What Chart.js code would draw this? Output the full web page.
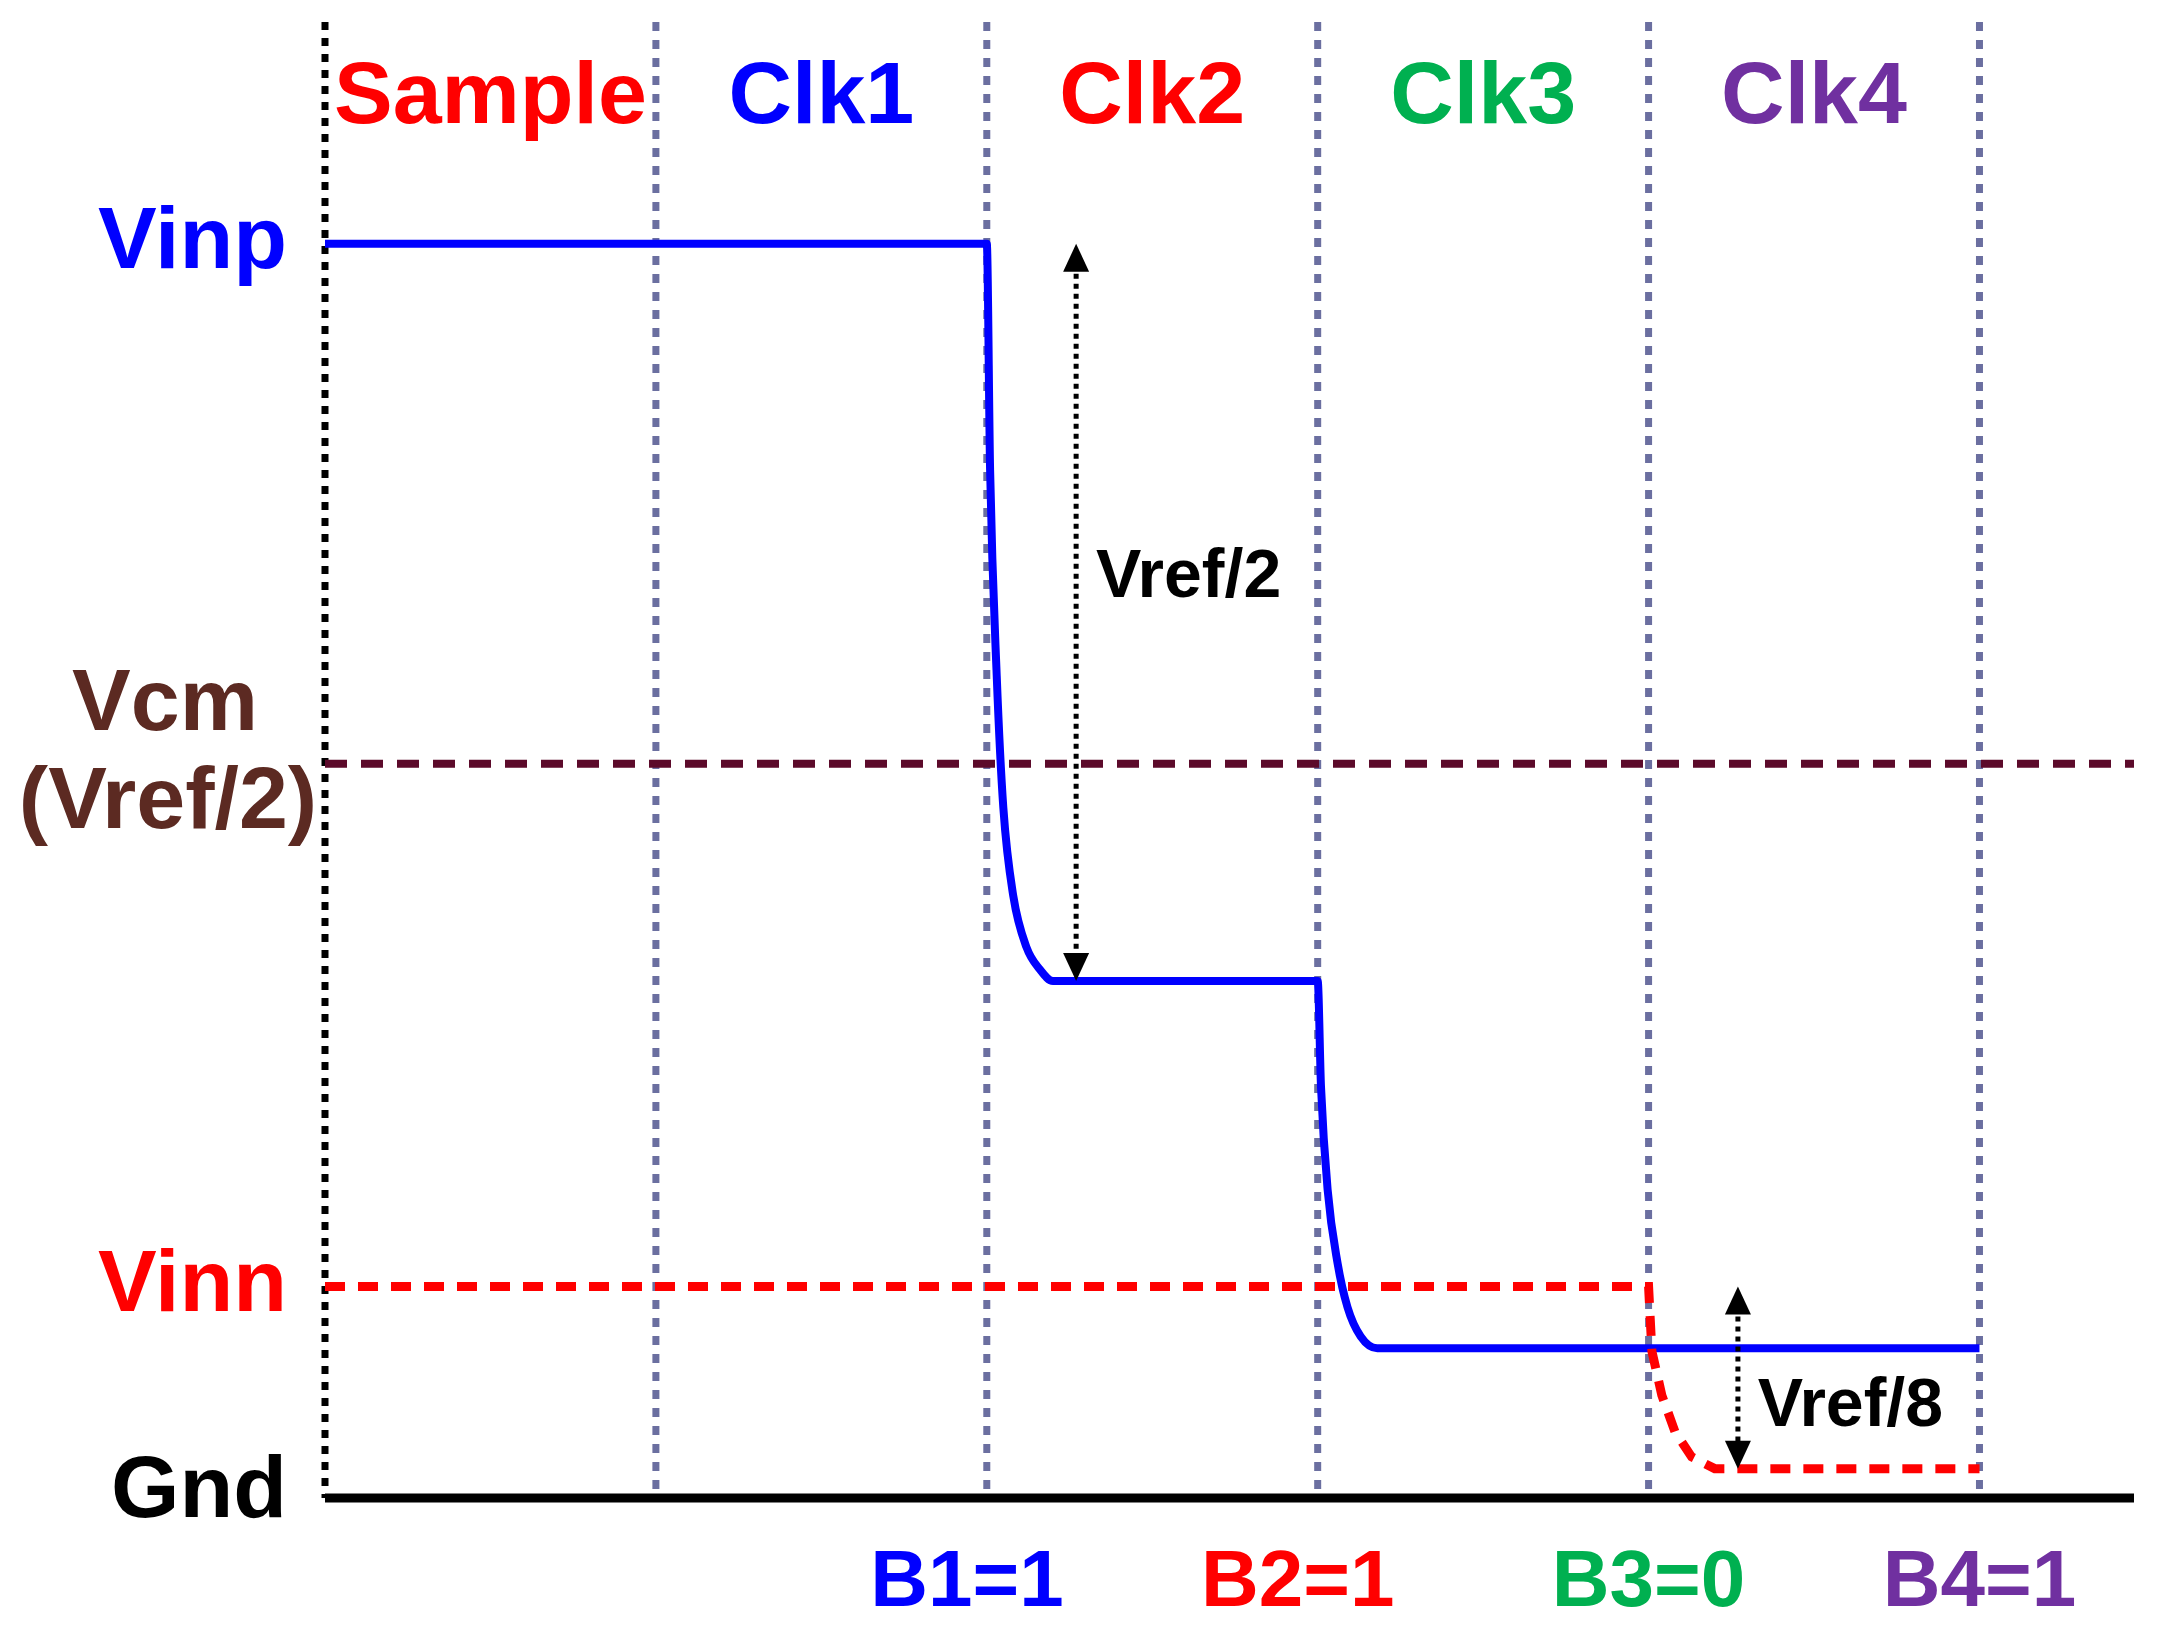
<!DOCTYPE html>
<html>
<head>
<meta charset="utf-8">
<script src="https://cdn.jsdelivr.net/npm/chart.js"></script>
<style>
  html, body { margin: 0; padding: 0; background: #fff; }
  #wrap { width: 2166px; height: 1648px; }
</style>
</head>
<body>
<div id="wrap"><canvas id="grafico"></canvas></div>
<script>
// x is in clock periods (0 = start of sample), y in units of Vref
var vinpX = [0, 2, 2.01, 2.03, 2.05, 2.08, 2.12, 2.16, 2.2, 3, 3.01, 3.03, 3.06, 3.09, 3.13, 3.18, 5];
var vinpY = [0.854, 0.854, 0.70, 0.56, 0.47, 0.41, 0.375, 0.36, 0.352, 0.352, 0.28, 0.21, 0.16, 0.13, 0.11, 0.102, 0.102];
var vinnX = [0, 4, 4.01, 4.04, 4.08, 4.13, 4.2, 5];
var vinnY = [0.144, 0.144, 0.10, 0.07, 0.045, 0.028, 0.02, 0.02];
var vcmY = 0.5;
var xMax = 5.467;
var clockLines = [1, 2, 3, 4, 5];

var phaseNames = ["Sample", "Clk1", "Clk2", "Clk3", "Clk4"];
var phaseColors = ["#ff0000", "#0000ff", "#ff0000", "#00b050", "#7030a0"];
var bitNames = ["B1=1", "B2=1", "B3=0", "B4=1"];
var bitX = [1.94, 2.94, 4.0, 5.0];
var bitColors = ["#0000ff", "#ff0000", "#00b050", "#7030a0"];
var levelNames = ["Vinp", "Vinn", "Gnd"];
var levelY = [0.854, 0.144, 0.0];
var levelColors = ["#0000ff", "#ff0000", "#000000"];

function pts(xs, ys) {
    var out = [];
    for (var i = 0; i < xs.length; i++) out.push({ x: xs[i], y: ys[i] });
    return out;
}

var desenho = {
    id: 'desenho',
    beforeDatasetsDraw: function (chart) {
        var c = chart.ctx, xs = chart.scales.x, a = chart.chartArea;
        c.save();
        // dotted clock lines
        c.strokeStyle = "#6b6fa0"; c.lineWidth = 7; c.setLineDash([9, 9]);
        clockLines.forEach(function (v) {
            var px = xs.getPixelForValue(v);
            c.beginPath(); c.moveTo(px, a.top); c.lineTo(px, a.bottom); c.stroke();
        });
        // left axis
        c.strokeStyle = "#000"; c.setLineDash([8, 8]); c.lineWidth = 7;
        c.beginPath(); c.moveTo(a.left, a.top); c.lineTo(a.left, a.bottom); c.stroke();
        c.restore();
    },
    afterDatasetsDraw: function (chart) {
        var c = chart.ctx, xs = chart.scales.x, ys = chart.scales.y, a = chart.chartArea;
        c.save();
        // ground line
        c.strokeStyle = "#000"; c.lineWidth = 9; c.setLineDash([]);
        c.beginPath(); c.moveTo(a.left, ys.getPixelForValue(0)); c.lineTo(a.right, ys.getPixelForValue(0)); c.stroke();

        // arrows
        function arrow(xv, y1, y2) {
            var px = xs.getPixelForValue(xv), p1 = ys.getPixelForValue(y1), p2 = ys.getPixelForValue(y2);
            c.strokeStyle = "#000"; c.lineWidth = 5; c.setLineDash([5, 5]);
            c.beginPath(); c.moveTo(px, p1 + 20); c.lineTo(px, p2 - 20); c.stroke();
            c.setLineDash([]); c.fillStyle = "#000";
            c.beginPath(); c.moveTo(px, p1); c.lineTo(px - 13, p1 + 28); c.lineTo(px + 13, p1 + 28); c.fill();
            c.beginPath(); c.moveTo(px, p2); c.lineTo(px - 13, p2 - 28); c.lineTo(px + 13, p2 - 28); c.fill();
        }
        arrow(2.27, 0.854, 0.352);
        arrow(4.27, 0.144, 0.02);

        c.textBaseline = "middle";
        c.font = "bold 68px 'Liberation Sans'"; c.fillStyle = "#000"; c.textAlign = "left";
        c.fillText("Vref/2", xs.getPixelForValue(2.33), ys.getPixelForValue(0.626));
        c.fillText("Vref/8", xs.getPixelForValue(4.33), ys.getPixelForValue(0.062));

        c.font = "bold 88px 'Liberation Sans'"; c.textAlign = "center";
        phaseNames.forEach(function (n, i) {
            c.fillStyle = phaseColors[i];
            c.fillText(n, xs.getPixelForValue(i + 0.5), ys.getPixelForValue(0.953));
        });
        c.font = "bold 80px 'Liberation Sans'";
        bitNames.forEach(function (n, i) {
            c.fillStyle = bitColors[i];
            c.fillText(n, xs.getPixelForValue(bitX[i]), a.bottom + 86);
        });
        c.font = "bold 88px 'Liberation Sans'"; c.textAlign = "right";
        levelNames.forEach(function (n, i) {
            c.fillStyle = levelColors[i];
            c.fillText(n, a.left - 38, ys.getPixelForValue(levelY[i]) + (i == 2 ? -5 : 0));
        });
        c.fillStyle = "#5c2a22"; c.textAlign = "center";
        c.fillText("Vcm", 165, ys.getPixelForValue(0.5) - 58);
        c.fillText("(Vref/2)", 168, ys.getPixelForValue(0.5) + 40);
        c.restore();
    }
};

new Chart(document.getElementById("grafico"), {
    type: "line",
    data: {
        datasets: [
            { data: [{ x: 0, y: vcmY }, { x: xMax, y: vcmY }], borderColor: "#5c0a2a", borderWidth: 8, borderDash: [22, 14], pointRadius: 0 },
            { data: pts(vinnX, vinnY), borderColor: "#ff0000", borderWidth: 9, borderDash: [20, 13], pointRadius: 0 },
            { data: pts(vinpX, vinpY), borderColor: "#0000ff", borderWidth: 8, pointRadius: 0, cubicInterpolationMode: 'monotone' }
        ]
    },
    options: {
        responsive: true, maintainAspectRatio: false, animation: false,
        layout: { padding: { left: 325, right: 32, top: 22, bottom: 150 } },
        plugins: { legend: { display: false }, tooltip: { enabled: false } },
        scales: {
            x: { type: "linear", min: 0, max: xMax, display: false },
            y: { min: 0, max: 1.005, display: false }
        }
    },
    plugins: [desenho]
});
</script>
</body>
</html>
